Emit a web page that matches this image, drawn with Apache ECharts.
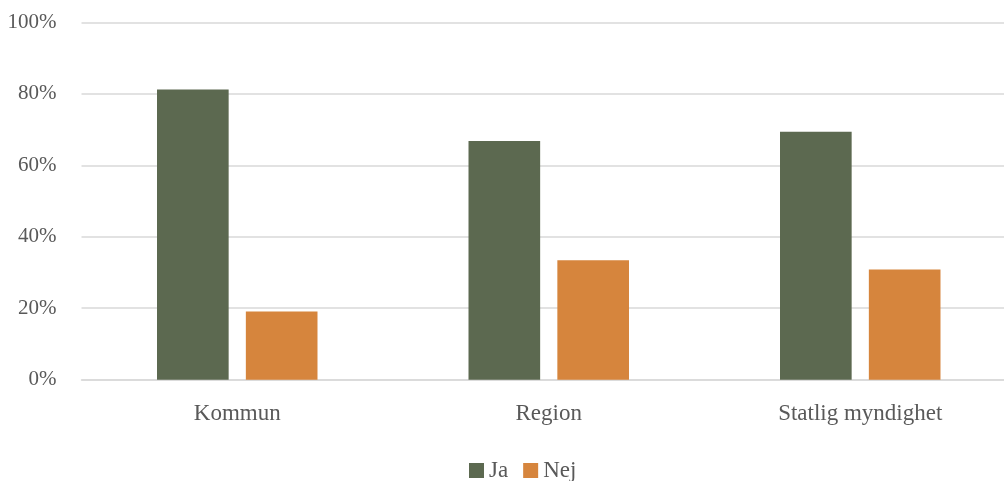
<!DOCTYPE html>
<html>
<head>
<meta charset="utf-8">
<script src="https://cdn.jsdelivr.net/npm/echarts@6/dist/echarts.min.js"></script>
<style>
html,body{margin:0;padding:0;background:#fff;}
#c{width:1004px;height:481px;}
</style>
</head>
<body>
<div id="c"></div>
<script>
const categories = ['Kommun', 'Region', 'Statlig myndighet'];
const jaValues = [81.2, 66.8, 69.4];
const nejValues = [19.1, 33.4, 30.8];
const yTicks = [0, 20, 40, 60, 80, 100];

const FONT = 'Liberation Serif';
const TEXT = '#595959';

const chart = echarts.init(document.getElementById('c'), null, {renderer: 'canvas'});
chart.setOption({
  animation: false,
  backgroundColor: '#ffffff',
  textStyle: {fontFamily: FONT},
  grid: {left: 81.5, top: 22.3, right: -12, bottom: 101.3, containLabel: false, outerBoundsMode: 'none'},
  legend: {
    data: ['Ja', 'Nej'],
    left: 464,
    top: 454,
    itemWidth: 15,
    itemHeight: 15,
    itemGap: 15,
    icon: 'rect',
    textStyle: {fontFamily: FONT, fontSize: 23, color: TEXT}
  },
  xAxis: {
    type: 'category',
    data: categories,
    axisLine: {show: true, lineStyle: {color: '#d9d9d9', width: 1.5}},
    axisTick: {show: false},
    axisLabel: {fontFamily: FONT, fontSize: 23, color: TEXT, margin: 23}
  },
  yAxis: {
    type: 'value',
    min: yTicks[0],
    max: yTicks[yTicks.length - 1],
    interval: yTicks[1] - yTicks[0],
    axisLine: {show: false},
    axisTick: {show: false},
    splitLine: {lineStyle: {color: '#d9d9d9', width: 1.5}},
    axisLabel: {fontFamily: FONT, fontSize: 21, color: TEXT, margin: 25, formatter: '{value}%'}
  },
  series: [
    {name: 'Ja', type: 'bar', data: jaValues, barWidth: '23%', barGap: '24%',
     itemStyle: {color: '#5C6950'}},
    {name: 'Nej', type: 'bar', data: nejValues, barWidth: '23%', barGap: '24%',
     itemStyle: {color: '#D6853D'}}
  ]
});
</script>
</body>
</html>
